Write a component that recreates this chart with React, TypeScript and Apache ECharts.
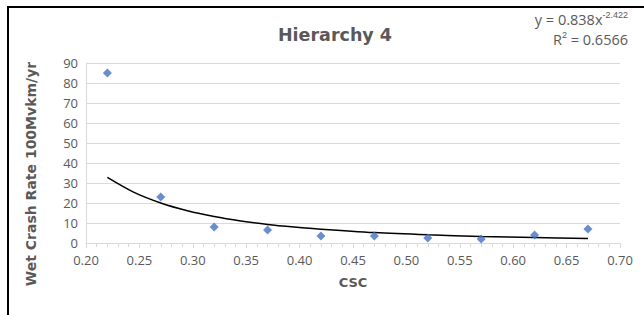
import React, { useEffect, useRef } from "react";
import * as echarts from "echarts";

const csc = [0.22, 0.27, 0.32, 0.37, 0.42, 0.47, 0.52, 0.57, 0.62, 0.67];
const crashRate = [85, 23, 8, 6.5, 3.5, 3.5, 2.5, 2, 4, 7];
const trendX = [0.22, 0.245, 0.27, 0.295, 0.32, 0.345, 0.37, 0.395, 0.42, 0.47, 0.52, 0.57, 0.62, 0.67];
const trendY = [32.8, 25.3, 20, 16.1, 13.2, 11, 9.3, 8, 6.9, 5.2, 4.1, 3.3, 2.7, 2.2];
const titleText = "Hierarchy 4";
const yAxisTitle = "Wet Crash Rate 100Mvkm/yr";
const equationText = "y = 0.838x{sup|-2.422}";
const r2Text = "R{sup|2} = 0.6566";

export default function App() {
  const ref = useRef<HTMLDivElement>(null);
  useEffect(() => {
    if (!ref.current) return;
    const chart = echarts.init(ref.current, null, { renderer: "svg" });
    const font = "'Open Sans', 'Noto Sans', sans-serif";
    const boldFont = "'DejaVu Sans', Verdana, sans-serif";
    chart.setOption({
      animation: false,
      backgroundColor: "#ffffff",
      textStyle: { fontFamily: font },
      title: {
        text: titleText,
        left: 330,
        top: 21,
        textAlign: "center",
        textStyle: { fontSize: 17.5, fontWeight: "bold", color: "#595959", fontFamily: boldFont },
      },
      grid: { left: 86, right: 24, top: 63, bottom: 72 },
      xAxis: {
        type: "value",
        min: 0.2,
        max: 0.7,
        interval: 0.05,
        name: "CSC",
        nameLocation: "middle",
        nameGap: 33,
        nameTextStyle: { fontSize: 13, fontWeight: "bold", color: "#595959", fontFamily: boldFont },
        axisLine: { show: true, lineStyle: { color: "#d9d9d9", width: 1 } },
        axisTick: { show: true, length: 5, lineStyle: { color: "#d9d9d9" } },
        minorTick: { show: true, splitNumber: 5, length: 4, lineStyle: { color: "#d9d9d9" } },
        splitLine: { show: false },
        axisLabel: {
          fontSize: 13,
          color: "#595959",
          margin: 10,
          formatter: (v: number) => v.toFixed(2),
        },
      },
      yAxis: {
        type: "value",
        min: 0,
        max: 90,
        interval: 10,
        axisLine: { show: true, lineStyle: { color: "#d9d9d9", width: 1 } },
        axisTick: { show: false },
        splitLine: { show: true, lineStyle: { color: "#d9d9d9", width: 1 } },
        axisLabel: { fontSize: 13, color: "#595959", margin: 8 },
      },
      graphic: [
        {
          type: "line",
          shape: { x1: 8, y1: 7, x2: 644, y2: 7 },
          style: { stroke: "#000000", lineWidth: 2 },
        },
        {
          type: "line",
          shape: { x1: 8, y1: 6, x2: 8, y2: 315 },
          style: { stroke: "#000000", lineWidth: 2 },
        },
        {
          type: "text",
          x: 31,
          y: 174,
          rotation: Math.PI / 2,
          style: {
            text: yAxisTitle,
            fontSize: 14,
            fontWeight: "bold",
            fill: "#595959",
            fontFamily: boldFont,
            align: "center",
            verticalAlign: "middle",
          },
        },
        {
          type: "text",
          right: 16,
          top: 10,
          style: {
            text: equationText,
            fontSize: 14.5,
            fill: "#595959",
            fontFamily: font,
            align: "right",
            rich: { sup: { fontSize: 9, verticalAlign: "top", padding: [0, 0, 10, 0], fill: "#595959" } },
          },
        },
        {
          type: "text",
          right: 16,
          top: 30,
          style: {
            text: r2Text,
            fontSize: 14.5,
            fill: "#595959",
            fontFamily: font,
            align: "right",
            rich: { sup: { fontSize: 9, verticalAlign: "top", padding: [0, 0, 10, 0], fill: "#595959" } },
          },
        },
      ],
      series: [
        {
          type: "line",
          data: trendX.map((x, i) => [x, trendY[i]]),
          smooth: 0.3,
          showSymbol: false,
          lineStyle: { color: "#000000", width: 1.5 },
          z: 2,
        },
        {
          type: "scatter",
          data: csc.map((x, i) => [x, crashRate[i]]),
          symbol: "diamond",
          symbolSize: 9,
          itemStyle: { color: "#4472C4" },
          z: 3,
        },
      ],
    });
    return () => chart.dispose();
  }, []);
  return (
    <div
      ref={ref}
      style={{ position: "fixed", left: 0, top: 0, width: 644, height: 315, background: "#fff" }}
    />
  );
}
